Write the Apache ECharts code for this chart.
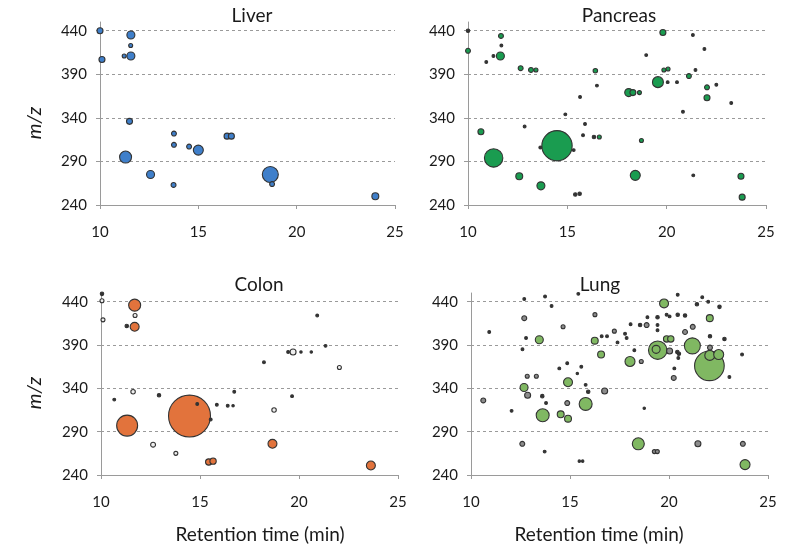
<!DOCTYPE html>
<html>
<head>
<meta charset="utf-8">
<script src="https://cdn.jsdelivr.net/npm/echarts@6/dist/echarts.min.js"></script>
<style>
  html, body { margin: 0; padding: 0; background: #fff; }
  #main { width: 788px; height: 546px; }
</style>
</head>
<body>
<div id="main"></div>
<script>
// each point: [retention time (min), m/z, relative abundance]
const liverData = [
  [10.0, 440, 9], [11.57, 435, 16], [11.56, 423, 4], [10.1, 407, 9], [11.23, 411, 4],
  [11.57, 411, 16], [11.5, 336, 9], [11.3, 295, 36], [12.57, 275, 16], [13.76, 322, 6],
  [13.76, 309, 6], [13.74, 263, 6], [14.53, 307, 6], [15.0, 303, 25], [16.46, 319, 9],
  [16.68, 319, 9], [18.66, 275, 64], [18.75, 264, 6], [24.0, 250, 12]
];
const pancreasData = [
  [10.0, 440, 3], [11.66, 434, 6], [11.68, 423, 2], [10.0, 417, 6], [10.92, 404, 2],
  [11.28, 411, 2], [11.63, 411, 16], [12.65, 397, 6], [13.17, 395, 6], [13.42, 395, 4],
  [16.41, 394, 5], [16.49, 377, 2], [15.64, 364, 2], [14.9, 344, 2], [12.85, 330, 2],
  [15.89, 333, 2], [15.79, 320, 2], [16.34, 318, 3], [16.61, 318, 4], [10.65, 324, 9],
  [11.29, 294, 85], [14.48, 308, 230], [13.64, 306, 2], [15.32, 303, 2], [12.58, 273, 12],
  [13.67, 262, 16], [15.4, 252, 3], [15.62, 253, 3], [18.09, 369, 16], [18.3, 369, 9],
  [18.63, 369, 4], [18.73, 314, 4], [18.42, 274, 25], [18.97, 412, 2], [19.81, 438, 9],
  [19.56, 381, 30], [19.86, 395, 4], [20.07, 396, 4], [20.05, 381, 2], [20.52, 381, 2],
  [21.32, 435, 2], [21.9, 419, 2], [21.45, 395, 2], [21.12, 388, 6], [20.82, 347, 2],
  [22.03, 375, 6], [22.03, 363, 9], [22.5, 378, 2], [23.25, 357, 2], [21.34, 274, 2],
  [23.74, 273, 9], [23.8, 249, 9]
];
const colonData = [
  [10.05, 449, 3], [10.05, 441, 4], [10.1, 419, 4], [11.7, 436, 36], [11.72, 424, 4],
  [11.3, 412, 3], [11.7, 411, 20], [11.62, 336, 5], [10.67, 327, 2], [12.93, 332, 3],
  [11.32, 297, 110], [12.63, 275, 6], [13.78, 265, 4], [14.47, 308, 440], [14.86, 322, 2],
  [15.54, 304, 2], [15.44, 255, 10], [15.66, 256, 10], [15.85, 321, 2], [16.4, 320, 2],
  [16.67, 320, 1.5], [16.73, 336, 2], [18.23, 370, 2], [18.74, 315, 5], [18.66, 276, 20],
  [19.45, 382, 2], [19.7, 382, 9], [20.1, 382, 1.5], [20.62, 382, 1.5], [19.65, 331, 2],
  [20.92, 424, 2], [21.34, 389, 2], [22.04, 364, 4], [23.63, 251, 20]
];
const lungData = [
  [12.69, 443, 2], [13.74, 446, 2], [14.07, 435, 2], [15.42, 449, 2], [16.26, 425, 4],
  [12.69, 421, 6], [10.92, 405, 2], [14.65, 411, 4], [13.45, 396, 16], [12.78, 398, 2],
  [12.6, 385, 2], [16.25, 395, 12], [16.6, 400, 2], [16.87, 400, 2], [17.24, 406, 4],
  [17.4, 393, 2], [16.57, 379, 12], [14.86, 369, 2], [14.46, 363, 2], [15.57, 365, 2],
  [15.37, 357, 1.5], [12.84, 354, 4], [13.3, 354, 4], [14.9, 347, 20], [15.79, 344, 2],
  [15.92, 336, 3], [12.68, 341, 16], [12.86, 332, 9], [10.62, 326, 6], [13.6, 331, 3],
  [13.79, 323, 2], [16.75, 337, 9], [15.79, 322, 42], [14.86, 323, 6], [12.05, 314, 2],
  [13.62, 309, 42], [14.53, 310, 12], [14.9, 305, 12], [12.59, 276, 6], [13.72, 267, 2],
  [15.47, 256, 1.5], [15.64, 256, 1.5], [19.75, 438, 20], [20.44, 448, 2], [21.68, 445, 2],
  [21.41, 437, 3], [21.98, 440, 2], [22.55, 434, 3], [18.91, 422, 2], [19.42, 422, 3],
  [19.88, 425, 2], [20.03, 423, 2], [20.44, 425, 3], [20.81, 424, 3], [22.06, 421, 12],
  [18.06, 414, 2], [18.54, 413, 3], [18.87, 413, 6], [19.42, 413, 2], [19.42, 407, 2],
  [20.81, 405, 6], [21.2, 411, 6], [17.78, 403, 2], [17.86, 398, 2], [18.25, 384, 2],
  [19.88, 397, 10], [20.09, 397, 10], [22.07, 400, 3], [22.8, 397, 3], [19.43, 384, 85],
  [19.35, 385, 16], [20.03, 383, 9], [20.42, 382, 3], [20.5, 380, 3], [20.47, 375, 2],
  [20.27, 363, 2], [20.24, 352, 6], [21.18, 389, 64], [22.04, 366, 220], [22.07, 387, 6],
  [22.06, 378, 25], [22.51, 379, 25], [18.03, 371, 25], [18.6, 371, 4], [23.05, 353, 2],
  [23.69, 379, 2], [18.75, 317, 1.5], [18.45, 276, 36], [19.26, 267, 4], [19.41, 267, 4],
  [21.46, 276, 9], [23.73, 276, 6], [23.84, 252, 25]
];

const panelTitles = ['Liver', 'Pancreas', 'Colon', 'Lung'];
const xTicks = [10, 15, 20, 25];
const yTicks = [240, 290, 340, 390, 440];

const FONT = 'Lato, "Open Sans", sans-serif';
const panels = [
  {data: liverData, color: '#3f7fca', small: '#3f7fca', left: 100, top: 22, width: 295, height: 183, title: [252, 16]},
  {data: pancreasData, color: '#1a9c50', small: '#1a9c50', left: 468, top: 22, width: 298, height: 183, title: [619, 16]},
  {data: colonData, color: '#e2733c', small: '#efefef', left: 101, top: 293, width: 297, height: 182, title: [259, 285]},
  {data: lungData, color: '#80b862', small: '#8c8c8c', left: 471, top: 293, width: 297, height: 182, title: [600, 285]}
];

const chart = echarts.init(document.getElementById('main'));

const grid = [], xAxis = [], yAxis = [], series = [], graphic = [];
panels.forEach(function (p, i) {
  grid.push({left: p.left, top: p.top, width: p.width, height: p.height, containLabel: false});
  xAxis.push({
    type: 'value', gridIndex: i, min: xTicks[0], max: xTicks[xTicks.length - 1], interval: 5,
    axisLine: {lineStyle: {color: '#9a9a9a', width: 1}},
    axisTick: {show: true, length: 4, lineStyle: {color: '#9a9a9a'}},
    axisLabel: {color: '#1a1a1a', fontFamily: FONT, fontSize: 15, margin: 20},
    splitLine: {show: false}
  });
  yAxis.push({
    type: 'value', gridIndex: i, min: yTicks[0], max: 450, interval: 50,
    axisLine: {show: true, lineStyle: {color: '#9a9a9a', width: 1}},
    axisTick: {show: true, length: 4, lineStyle: {color: '#9a9a9a'}},
    axisLabel: {
      color: '#1a1a1a', fontFamily: FONT, fontSize: 15, margin: 13, showMaxLabel: false,
      formatter: function (v) { return yTicks.indexOf(v) >= 0 ? String(v) : ''; }
    },
    splitLine: {show: true, showMinLine: false, showMaxLine: false, lineStyle: {color: '#9a9a9a', type: [3, 3], width: 1}}
  });
  series.push({
    type: 'scatter', xAxisIndex: i, yAxisIndex: i, data: p.data,
    symbolSize: function (val) { return 2 * Math.sqrt(val[2]); },
    itemStyle: {
      color: function (params) {
        const v = params.data[2];
        if (v <= 3) return '#333';
        return v <= 9 ? p.small : p.color;
      },
      borderColor: '#333', borderWidth: 1.1, opacity: 1
    },
    emphasis: {disabled: true}
  });
  graphic.push({
    type: 'text', x: p.title[0], y: p.title[1],
    style: {text: panelTitles[i], align: 'center', verticalAlign: 'middle', font: '19px ' + FONT, fill: '#1a1a1a'}
  });
});

// axis titles
graphic.push({type: 'text', x: 35, y: 123, rotation: Math.PI / 2,
  style: {text: 'm/z', align: 'center', verticalAlign: 'middle', font: 'italic 20px ' + FONT, fill: '#1a1a1a'}});
graphic.push({type: 'text', x: 35, y: 393, rotation: Math.PI / 2,
  style: {text: 'm/z', align: 'center', verticalAlign: 'middle', font: 'italic 20px ' + FONT, fill: '#1a1a1a'}});
graphic.push({type: 'text', x: 260, y: 535,
  style: {text: 'Retention time (min)', align: 'center', verticalAlign: 'middle', font: '19px ' + FONT, fill: '#1a1a1a'}});
graphic.push({type: 'text', x: 599, y: 535,
  style: {text: 'Retention time (min)', align: 'center', verticalAlign: 'middle', font: '19px ' + FONT, fill: '#1a1a1a'}});

chart.setOption({
  animation: false,
  backgroundColor: '#fff',
  grid: grid,
  xAxis: xAxis,
  yAxis: yAxis,
  series: series,
  graphic: graphic
});
</script>
</body>
</html>
